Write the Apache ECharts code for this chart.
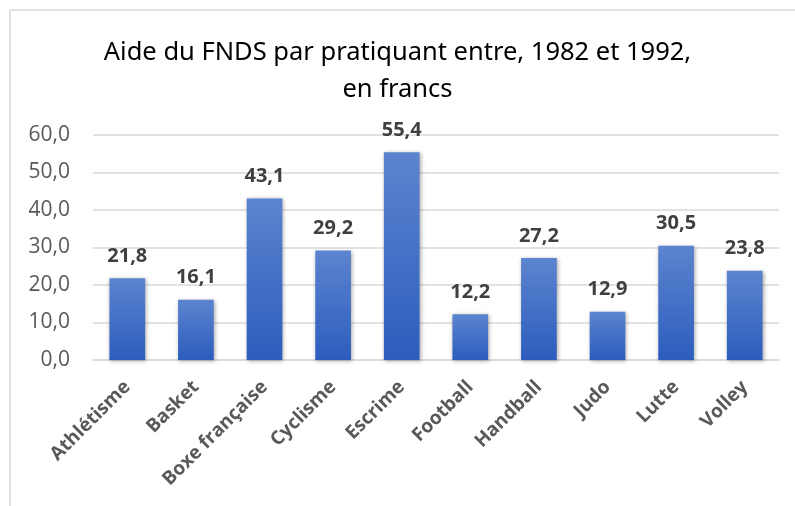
<!DOCTYPE html>
<html><head><meta charset="utf-8">
<script src="https://cdn.jsdelivr.net/npm/echarts@6/dist/echarts.min.js"></script>
<style>html,body{margin:0;padding:0;background:#fff}#c{width:795px;height:506px}</style>
</head><body><div id="c"></div>
<script>
const categories = ["Athlétisme","Basket","Boxe française","Cyclisme","Escrime","Football","Handball","Judo","Lutte","Volley"];
const values = [21.8,16.1,43.1,29.2,55.4,12.2,27.2,12.9,30.5,23.8];
const titleText = "Aide du FNDS par pratiquant entre, 1982 et 1992,\nen francs";
const fmt = v => v.toFixed(1).replace('.', ',');
const chart = echarts.init(document.getElementById('c'));
chart.setOption({
  animation:false,
  graphic:[{type:'rect',shape:{x:10,y:10,width:800,height:520},style:{fill:'none',stroke:'#d9d9d9',lineWidth:1.5},z:-1}],
  title:{text:titleText,left:'center',top:29,textStyle:{fontFamily:'Noto Sans',fontWeight:'normal',fontSize:25.5,color:'#000',lineHeight:37}},
  grid:{left:93,right:16,top:135,bottom:146},
  xAxis:{type:'category',data:categories,axisTick:{show:false},
    axisLine:{lineStyle:{color:'#d9d9d9',width:1.5}},
    axisLabel:{rotate:45,interval:0,margin:24,fontFamily:'Open Sans',fontWeight:'bold',fontSize:19,color:'#595959'}},
  yAxis:{type:'value',min:0,max:60,interval:10,
    axisLabel:{formatter:v=>fmt(v),fontFamily:'Open Sans',fontSize:21,color:'#595959',margin:23},
    splitLine:{lineStyle:{color:'#d9d9d9',width:1.5}},axisLine:{show:false},axisTick:{show:false}},
  series:[{type:'bar',data:values,barWidth:'52%',
    itemStyle:{color:new echarts.graphic.LinearGradient(0,0,0,1,[{offset:0,color:'#5c84cf'},{offset:1,color:'#2c5dbd'}]),
      shadowColor:'rgba(0,0,0,0.35)',shadowBlur:4,shadowOffsetX:1,shadowOffsetY:1},
    label:{show:true,position:'top',distance:12,formatter:p=>fmt(p.value),fontFamily:'Open Sans',fontWeight:'bold',fontSize:20,color:'#404040'}}]
});
</script></body></html>
